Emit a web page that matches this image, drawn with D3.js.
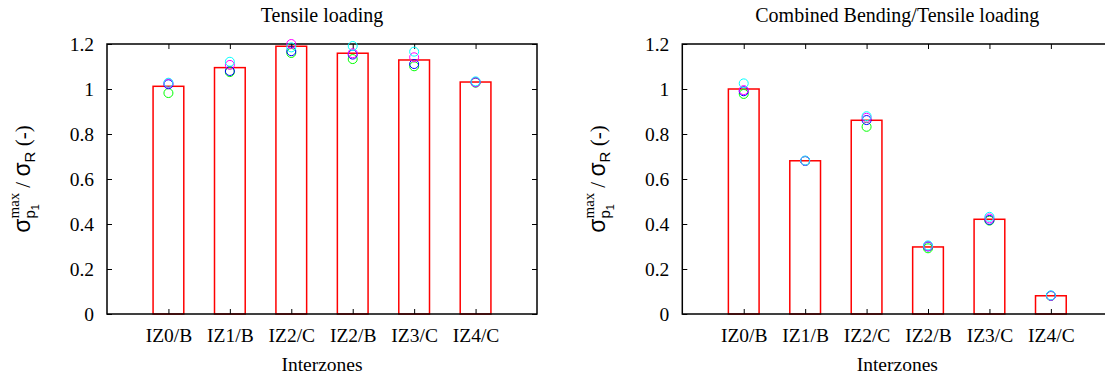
<!DOCTYPE html>
<html>
<head>
<meta charset="utf-8">
<script src="https://cdn.jsdelivr.net/npm/d3@7"></script>
<style>
  body { margin: 0; background: #fff; }
  svg { display: block; font-family: "Liberation Serif", "Times New Roman", serif; }
  .tick line { stroke: #000; stroke-width: 1; }
  .ylab text { white-space: pre; }
</style>
</head>
<body>
<div id="chart"></div>
<script>
// categories and y ticks
const categories = ['IZ0/B', 'IZ1/B', 'IZ2/C', 'IZ2/B', 'IZ3/C', 'IZ4/C'];
const yTicks = [0, 0.2, 0.4, 0.6, 0.8, 1, 1.2];

// Tensile loading
const tensileBars    = [1.012, 1.095, 1.190, 1.159, 1.129, 1.031];
const tensileGreen   = [0.982, 1.075, 1.160, 1.133, 1.101, 1.028];
const tensileBlue    = [1.021, 1.080, 1.168, 1.153, 1.111, 1.030];
const tensileMagenta = [1.025, 1.107, 1.200, 1.159, 1.141, 1.030];
const tensileCyan    = [1.028, 1.121, 1.185, 1.191, 1.166, 1.034];

// Combined bending/tensile loading
const combinedBars    = [1.000, 0.681, 0.861, 0.298, 0.421, 0.081];
const combinedGreen   = [0.978, 0.680, 0.832, 0.292, 0.415, 0.080];
const combinedBlue    = [0.990, 0.680, 0.862, 0.300, 0.418, 0.081];
const combinedMagenta = [0.995, 0.681, 0.872, 0.302, 0.425, 0.081];
const combinedCyan    = [1.025, 0.682, 0.879, 0.305, 0.432, 0.083];

const W = 1105, H = 380;
const plotW = 430, plotH = 270, plotTop = 44;

const svg = d3.select('#chart').append('svg')
  .attr('width', W)
  .attr('height', H);

function drawPanel(left, title, bars, series) {
  const g = svg.append('g').attr('transform', `translate(${left},${plotTop})`);

  const x = d3.scaleLinear().domain([0, 7]).range([0, plotW]);
  const y = d3.scaleLinear().domain([0, 1.2]).range([plotH, 0]);
  const pos = categories.map((c, i) => i + 1);

  // bars (outline only)
  const bw = x(0.5) - x(0);
  g.selectAll('.bar')
    .data(bars)
    .enter()
    .append('rect')
    .attr('class', 'bar')
    .attr('x', (d, i) => x(pos[i]) - bw / 2)
    .attr('y', d => y(d))
    .attr('width', bw)
    .attr('height', d => plotH - y(d))
    .attr('fill', 'none')
    .attr('stroke', '#ff0000')
    .attr('stroke-width', 1.5);

  // axes with inward ticks
  const bottom = g.append('g')
    .attr('transform', `translate(0,${plotH})`)
    .call(d3.axisBottom(x).tickValues(pos).tickFormat((d, i) => categories[i])
      .tickSizeInner(-5).tickSizeOuter(0).tickPadding(14));
  bottom.select('.domain').remove();
  bottom.selectAll('text').attr('font-size', 19.5).attr('fill', '#000')
    .attr('font-family', '"Liberation Serif", "Times New Roman", serif');

  const topAx = g.append('g')
    .call(d3.axisTop(x).tickValues(pos).tickFormat('').tickSizeInner(-5).tickSizeOuter(0));
  topAx.select('.domain').remove();

  const leftAx = g.append('g')
    .call(d3.axisLeft(y).tickValues(yTicks).tickFormat(d3.format('~g'))
      .tickSizeInner(-5).tickSizeOuter(0).tickPadding(13));
  leftAx.select('.domain').remove();
  leftAx.selectAll('text').attr('font-size', 19.5).attr('fill', '#000').attr('dy', '0.34em')
    .attr('font-family', '"Liberation Serif", "Times New Roman", serif');

  const rightAx = g.append('g')
    .attr('transform', `translate(${plotW},0)`)
    .call(d3.axisRight(y).tickValues(yTicks).tickFormat('').tickSizeInner(-5).tickSizeOuter(0));
  rightAx.select('.domain').remove();

  // frame
  g.append('rect')
    .attr('width', plotW)
    .attr('height', plotH)
    .attr('fill', 'none')
    .attr('stroke', '#000')
    .attr('stroke-width', 1.5);

  // circles
  series.forEach(s => {
    g.selectAll(null)
      .data(s.values)
      .enter()
      .append('circle')
      .attr('cx', (d, i) => x(pos[i]))
      .attr('cy', d => y(d))
      .attr('r', 4.5)
      .attr('fill', 'none')
      .attr('stroke', s.color)
      .attr('stroke-width', 1);
  });

  // title
  svg.append('text')
    .attr('x', left + plotW / 2)
    .attr('y', 22)
    .attr('text-anchor', 'middle')
    .attr('font-size', 20)
    .text(title);

  // x label
  svg.append('text')
    .attr('x', left + plotW / 2)
    .attr('y', 371)
    .attr('text-anchor', 'middle')
    .attr('font-size', 19.5)
    .text('Interzones');

  // y label: sigma_{p_1}^{max} / sigma_R (-)
  const lab = svg.append('g').attr('class', 'ylab');
  const inner = lab.append('g');
  const sans = '"Liberation Sans", Arial, sans-serif';
  const serif = '"Liberation Serif", "Times New Roman", serif';
  let cx = 0;
  function piece(str, fam, size, dy) {
    const t = inner.append('text')
      .attr('x', cx).attr('y', dy)
      .attr('font-family', fam).attr('font-size', size)
      .attr('xml:space', 'preserve')
      .text(str);
    return t.node().getComputedTextLength();
  }
  cx += piece('σ', sans, 23, 0);
  const start = cx;
  const pw = piece('p', sans, 15, 5);
  cx = start + pw;
  const onew = piece('1', sans, 11, 9);
  cx = start;
  const mw = piece('max', serif, 15, -11);
  cx = start + Math.max(pw + onew, mw) + 5;
  cx += piece('/ ', serif, 21, 0);
  cx += piece('σ', sans, 23, 0);
  cx += piece('R', sans, 15, 5);
  cx += piece(' (-)', serif, 21, 0);
  inner.attr('transform', `translate(${-cx / 2},0)`);
  lab.attr('transform', `translate(${left - 77},${plotTop + plotH / 2}) rotate(-90)`);
}

const colors = { green: '#00ff00', blue: '#0000ff', magenta: '#ff00ff', cyan: '#00ffff' };

drawPanel(107, 'Tensile loading', tensileBars, [
  { values: tensileGreen, color: colors.green },
  { values: tensileBlue, color: colors.blue },
  { values: tensileMagenta, color: colors.magenta },
  { values: tensileCyan, color: colors.cyan }
]);

drawPanel(682.3, 'Combined Bending/Tensile loading', combinedBars, [
  { values: combinedGreen, color: colors.green },
  { values: combinedBlue, color: colors.blue },
  { values: combinedMagenta, color: colors.magenta },
  { values: combinedCyan, color: colors.cyan }
]);
</script>
</body>
</html>
